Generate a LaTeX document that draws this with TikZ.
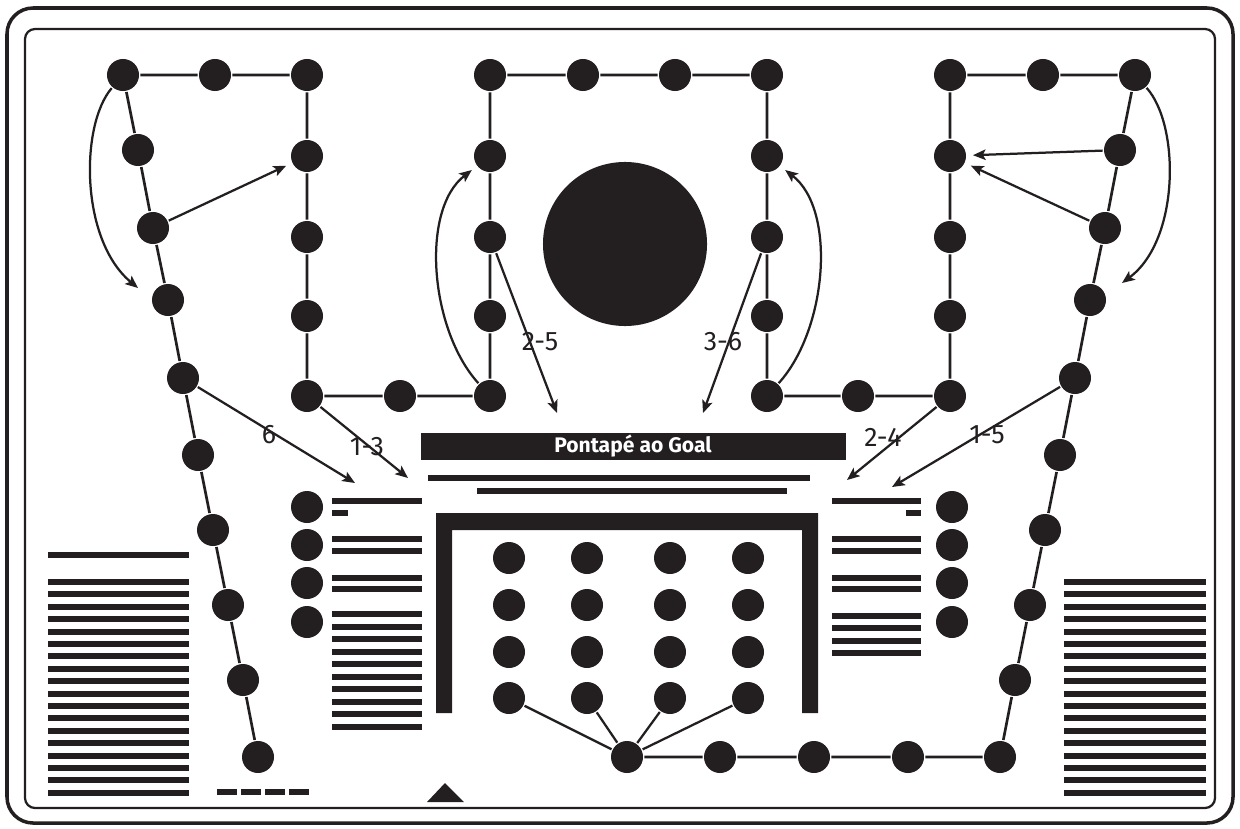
\documentclass[tikz,border=0pt]{standalone}
\usepackage{fontspec}
\setmainfont{Fira Sans}
\usetikzlibrary{arrows.meta}
\definecolor{ink}{HTML}{231F20}
\tikzset{dot/.style = {fill=ink, circle, inner sep = 0, minimum size = 0.8cm}}
\tikzset{arr/.style = {-{Stealth[length=9pt,width=7.5pt,inset=2pt]}, line width=1.6pt, ink}}
\tikzset{num/.style = {ink, inner sep=0, font=\fontsize{19}{22}\selectfont}}
\newcommand{\stripe}[3]{\fill[ink] (#1,#3-3) rectangle (#2,#3+3);}
\begin{document}
\begin{tikzpicture}[x=0.025cm, y=-0.025cm, every path/.style={line width=1.9pt}]
    \useasboundingbox (0,0) rectangle (1240,828);
    \draw[ink, line width=2.5pt, rounded corners=0.65cm] (7,8) rectangle (1233,823);
    \draw[ink, line width=1.6pt, rounded corners=0.25cm] (25,29) rectangle (1215,808);

    % left and right lines of dots
    \node[dot] (a1) at (123,75) {};
    \node[dot] (a2) at (138,150) {};
    \node[dot] (a3) at (153,228) {};
    \node[dot] (a4) at (168,300) {};
    \node[dot] (a5) at (183,378) {};
    \node[dot] (a6) at (198,455) {};
    \node[dot] (a7) at (213,530) {};
    \node[dot] (a8) at (228,605) {};
    \node[dot] (a9) at (243,680) {};
    \node[dot] (a10) at (258,757) {};
    \node[dot] (g1) at (1135,75) {};
    \node[dot] (g2) at (1120,150) {};
    \node[dot] (g3) at (1105,228) {};
    \node[dot] (g4) at (1090,300) {};
    \node[dot] (g5) at (1075,378) {};
    \node[dot] (g6) at (1060,455) {};
    \node[dot] (g7) at (1045,530) {};
    \node[dot] (g8) at (1030,605) {};
    \node[dot] (g9) at (1015,680) {};
    \node[dot] (g10) at (1000,757) {};

    % the four columns
    \foreach \col/\x in {b/307, d/490, e/767, f/950}{
      \node[dot] (\col1) at (\x,75) {};
      \node[dot] (\col2) at (\x,156) {};
      \node[dot] (\col3) at (\x,237) {};
      \node[dot] (\col4) at (\x,316) {};
      \node[dot] (\col5) at (\x,396) {};
    }
    \node[dot] (t1) at (215,75) {};
    \node[dot] (m1) at (583,75) {};
    \node[dot] (m2) at (675,75) {};
    \node[dot] (t2) at (1043,75) {};
    \node[dot] (c1) at (400,396) {};
    \node[dot] (c2) at (858,396) {};
    \node[dot] (k) at (627,757) {};
    \node[dot] (h1) at (720,757) {};
    \node[dot] (h2) at (814,757) {};
    \node[dot] (h3) at (908,757) {};

    \draw[ink] (a10) -- (a9) -- (a8) -- (a7) -- (a6) -- (a5) -- (a4) -- (a3) -- (a2) -- (a1)
      -- (t1) -- (b1) -- (b2) -- (b3) -- (b4) -- (b5) -- (c1) -- (d5) -- (d4) -- (d3) -- (d2) -- (d1)
      -- (m1) -- (m2) -- (e1) -- (e2) -- (e3) -- (e4) -- (e5) -- (c2) -- (f5) -- (f4) -- (f3) -- (f2) -- (f1)
      -- (t2) -- (g1) -- (g2) -- (g3) -- (g4) -- (g5) -- (g6) -- (g7) -- (g8) -- (g9) -- (g10)
      -- (h3) -- (h2) -- (h1) -- (k);

    \fill[ink] (625,244) circle [radius=2.05cm];

    % goal
    \fill[ink] (436,713) -- (436,513) -- (818,513) -- (818,713) -- (802,713) -- (802,530) -- (452,530) -- (452,713) -- cycle;
    \foreach \r/\y in {1/558, 2/605, 3/652, 4/698}{
      \foreach \c/\x in {1/509, 2/587, 3/670, 4/748}{
        \node[dot] (p\r\c) at (\x,\y) {};
      }
    }
    \draw[ink, line width=1.6pt] (k) -- (p41);
    \draw[ink, line width=1.6pt] (k) -- (p42);
    \draw[ink, line width=1.6pt] (k) -- (p43);
    \draw[ink, line width=1.6pt] (k) -- (p44);

    \fill[ink] (421,433) rectangle (846,460);
    \node[white, font=\bfseries\fontsize{15}{18}\selectfont] (title) at (633,446.5) {Pontapé ao Goal};
    \stripe{428}{810}{478}
    \stripe{477}{787}{491}

    % side dots and bars
    \foreach \i/\y in {1/507, 2/545, 3/583, 4/622}{
      \node[dot] (q\i) at (307,\y) {};
      \node[dot] (s\i) at (952,\y) {};
    }
    \foreach \y in {501,539,551,578,589,614,627,639,652,664,677,689,702,714,727}{\stripe{332}{422}{\y}}
    \stripe{332}{348}{513}
    \foreach \y in {501,539,551,578,589,616,628,641,653}{\stripe{832}{921}{\y}}
    \stripe{906}{921}{513}

    \stripe{48}{189}{555}
    \foreach \i in {0,...,17}{
      \stripe{48}{189}{582+12.4*\i}
      \stripe{1064}{1206}{582+12.4*\i}
    }
    \foreach \x in {217,241,265,289}{\stripe{\x}{\x+20}{792}}
    \fill[ink] (427,802) -- (445,783) -- (464,802) -- cycle;

    % moves
    \coordinate (tipa) at (138,288);
    \coordinate (tipg) at (1122,283);
    \coordinate (tip25) at (557,413);
    \coordinate (tip36) at (703,413);
    \coordinate (tip6) at (355,483);
    \coordinate (tip13) at (408,478);
    \coordinate (tip24) at (847,480);
    \coordinate (tip15) at (892,487);
    \draw[arr] (a1) .. controls (80,125) and (80,240) .. (tipa);
    \draw[arr] (g1) .. controls (1180,125) and (1180,240) .. (tipg);
    \draw[arr, shorten >=4pt] (d5) .. controls (430,330) and (420,210) .. (d2);
    \draw[arr, shorten >=4pt] (e5) .. controls (827,330) and (837,210) .. (e2);
    \draw[arr, shorten >=4pt] (a3) -- (b2);
    \draw[arr, shorten >=4pt] (g2) -- (f2);
    \draw[arr, shorten >=4pt] (g3) -- (f2);
    \draw[arr] (d3) -- (tip25);
    \draw[arr] (e3) -- (tip36);
    \draw[arr] (a5) -- (tip6);
    \draw[arr] (b5) -- (tip13);
    \draw[arr] (f5) -- (tip24);
    \draw[arr] (g5) -- (tip15);

    \node[num] (l25) at (540,342) {2-5};
    \node[num] (l36) at (723,342) {3-6};
    \node[num] (l6) at (269,435) {6};
    \node[num] (l13) at (367,447) {1-3};
    \node[num] (l24) at (883,437) {2-4};
    \node[num] (l15) at (987,435) {1-5};
\end{tikzpicture}
\end{document}
